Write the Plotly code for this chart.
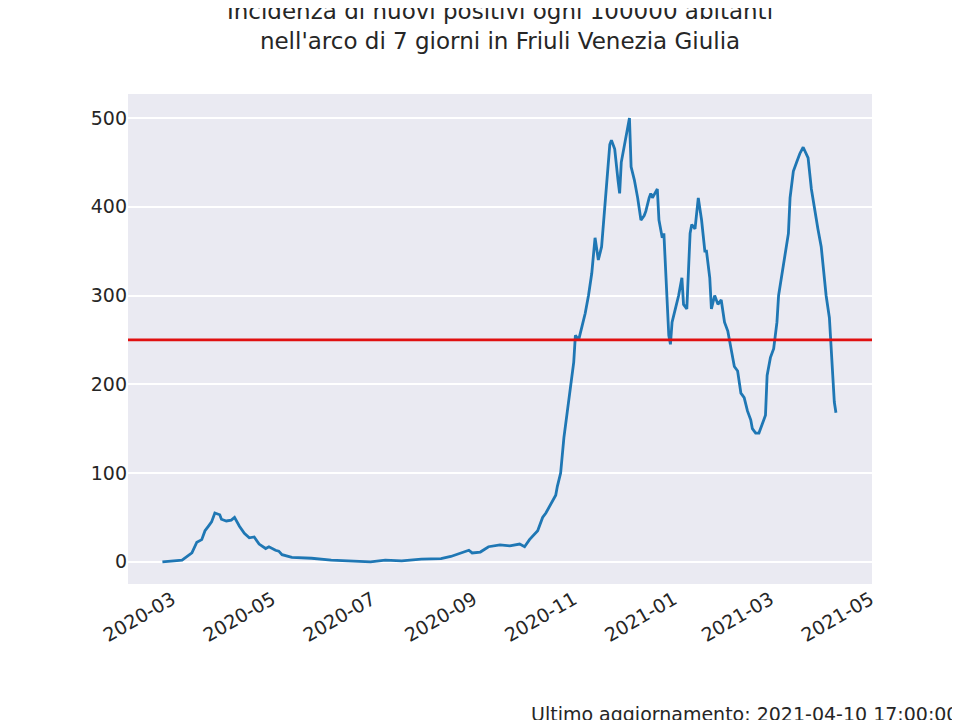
import pandas as pd
import plotly.graph_objects as go

# days since 2020-03-01 and weekly incidence per 100000
days = [-6,6,12,15,18,20,22,24,26,29,30,33,36,38,41,44,47,50,53,57,59,63,65,67,73,85,97,109,121,130,140,152,164,170,176,181,183,188,193,200,206,212,215,218,223,226,228,231,234,235,237,239,241,243,245,246,248,250,252,254,256,258,260,262,263,265,267,268,270,272,273,274,276,278,279,280,282,284,286,288,289,291,292,293,296,297,299,300,302,303,304,305,307,309,311,312,314,316,317,319,321,323,325,326,328,329,331,333,335,337,339,340,342,343,345,347,349,351,353,354,356,358,360,362,363,365,367,369,370,372,374,376,377,379,381,383,385,387,388,390,392,394,396,397,399,401,403,404,405]
values = [0,2,10,22,25,35,40,45,55,53,48,46,47,50,40,32,27,28,20,15,17,13,12,8,5,4,2,1,0,2,1,3,3.5,6,10,13,10,11,17,19,18,20,17,25,35,50,55,65,75,85,100,140,170,200,225,255,250,265,280,300,325,365,340,355,380,430,470,475,465,430,415,450,470,490,500,445,430,410,385,390,395,410,415,410,420,385,365,370,300,255,245,270,285,300,320,290,285,370,380,375,410,385,350,350,320,285,300,290,295,270,260,250,230,220,215,190,185,170,160,150,145,145,155,165,210,230,240,270,300,325,350,370,410,440,450,460,467,460,455,420,395,375,355,335,300,275,220,180,168]
threshold = 250
title = "Incidenza di nuovi positivi ogni 100000 abitanti<br>nell'arco di 7 giorni in Friuli Venezia Giulia"
footer = "Ultimo aggiornamento: 2021-04-10 17:00:00"

dates = pd.Timestamp("2020-03-01") + pd.to_timedelta(days, unit="D")

fig = go.Figure()
fig.add_trace(go.Scatter(x=dates, y=values, mode="lines",
                         line=dict(color="#1f77b4", width=2.8)))
fig.add_hline(y=threshold, line=dict(color="#e01010", width=2.8))
fig.update_layout(
    width=960, height=720, showlegend=False,
    paper_bgcolor="white", plot_bgcolor="#EAEAF2",
    font=dict(family="DejaVu Sans", size=19, color="#262626"),
    title=dict(text=title, x=0.5, xanchor="center", xref="paper",
               y=0.985, yref="container", yanchor="top",
               font=dict(size=23)),
    margin=dict(l=120, r=96, t=86, b=144, autoexpand=False),
    xaxis=dict(range=["2020-02-03", "2021-05-02"], tickformat="%Y-%m",
               dtick="M2", tick0="2020-03-01", tickangle=-30,
               showgrid=False, showline=False, zeroline=False,
               ticks="", automargin=False),
    yaxis=dict(range=[-25, 527], dtick=100, gridcolor="white", gridwidth=1.5,
               zeroline=False, ticks="", automargin=False),
)
fig.add_annotation(text=footer, xref="paper", yref="paper", x=1.118, y=-0.265,
                   xanchor="right", yanchor="middle", showarrow=False,
                   font=dict(size=19))
fig.write_html("out.html")
